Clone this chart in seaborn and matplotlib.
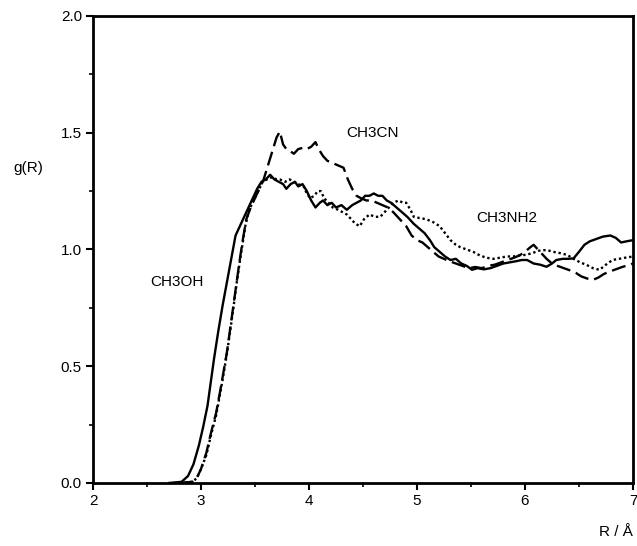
# g(R) radial distribution curves for three solutes

import pandas as pd
import matplotlib
matplotlib.use("Agg")
import matplotlib.pyplot as plt
from matplotlib.ticker import MultipleLocator
import seaborn as sns

# --- data ---
r_ch3oh = [2.70, 2.82, 2.88, 2.93, 2.98, 3.02, 3.06, 3.09, 3.12, 3.16, 3.20, 3.24, 3.28, 3.32,
           3.36, 3.40, 3.44, 3.48, 3.52, 3.56, 3.60, 3.64, 3.68, 3.72, 3.76, 3.79, 3.83, 3.87,
           3.90, 3.94, 3.98, 4.02, 4.06, 4.10, 4.13, 4.17, 4.21, 4.25, 4.30, 4.35, 4.40, 4.44,
           4.48, 4.52, 4.56, 4.60, 4.64, 4.68, 4.72, 4.76, 4.81, 4.86, 4.91, 4.97, 5.02, 5.07,
           5.12, 5.16, 5.21, 5.26, 5.31, 5.36, 5.41, 5.46, 5.51, 5.56, 5.62, 5.68, 5.74, 5.80,
           5.86, 5.92, 5.97, 6.02, 6.08, 6.14, 6.20, 6.25, 6.29, 6.35, 6.40, 6.45, 6.50, 6.55,
           6.60, 6.66, 6.72, 6.79, 6.84, 6.89, 6.94, 7.00]
g_ch3oh = [0.0, 0.005, 0.03, 0.08, 0.16, 0.24, 0.33, 0.43, 0.53, 0.65, 0.76, 0.86, 0.96, 1.06,
           1.10, 1.14, 1.18, 1.22, 1.26, 1.29, 1.30, 1.32, 1.30, 1.29, 1.28, 1.26, 1.28, 1.29,
           1.27, 1.28, 1.25, 1.21, 1.18, 1.20, 1.21, 1.19, 1.20, 1.18, 1.19, 1.17, 1.19, 1.20,
           1.21, 1.23, 1.23, 1.24, 1.23, 1.23, 1.21, 1.20, 1.18, 1.16, 1.14, 1.11, 1.09, 1.07,
           1.04, 1.01, 0.99, 0.97, 0.955, 0.96, 0.94, 0.93, 0.913, 0.92, 0.915, 0.92, 0.93, 0.94,
           0.945, 0.95, 0.955, 0.955, 0.94, 0.935, 0.926, 0.94, 0.955, 0.96, 0.96, 0.962, 0.99, 1.02,
           1.035, 1.045, 1.055, 1.06, 1.05, 1.03, 1.035, 1.04]

r_ch3cn = [2.80, 2.92, 2.96, 3.00, 3.05, 3.09, 3.14, 3.18, 3.21, 3.24, 3.27, 3.30, 3.33, 3.36,
           3.39, 3.42, 3.46, 3.50, 3.54, 3.58, 3.62, 3.66, 3.70, 3.73, 3.76, 3.79, 3.83, 3.86,
           3.90, 3.94, 3.98, 4.02, 4.06, 4.09, 4.13, 4.17, 4.22, 4.27, 4.32, 4.36, 4.40, 4.44,
           4.48, 4.53, 4.58, 4.63, 4.68, 4.73, 4.78, 4.84, 4.90, 4.95, 5.00, 5.05, 5.10, 5.15,
           5.20, 5.25, 5.30, 5.36, 5.42, 5.48, 5.54, 5.60, 5.66, 5.72, 5.78, 5.84, 5.90, 5.95,
           6.00, 6.05, 6.08, 6.12, 6.16, 6.20, 6.25, 6.30, 6.36, 6.42, 6.47, 6.52, 6.58, 6.63,
           6.68, 6.73, 6.78, 6.84, 6.90, 6.97, 7.00]
g_ch3cn = [0.0, 0.005, 0.02, 0.06, 0.13, 0.21, 0.30, 0.40, 0.48, 0.56, 0.66, 0.76, 0.86, 0.96,
           1.05, 1.13, 1.18, 1.22, 1.26, 1.30, 1.36, 1.42, 1.48, 1.505, 1.45, 1.43, 1.42, 1.41,
           1.43, 1.435, 1.43, 1.44, 1.46, 1.43, 1.40, 1.38, 1.37, 1.36, 1.35, 1.30, 1.26, 1.23,
           1.22, 1.21, 1.21, 1.20, 1.19, 1.18, 1.16, 1.13, 1.10, 1.06, 1.04, 1.03, 1.01, 0.99,
           0.97, 0.96, 0.95, 0.94, 0.93, 0.92, 0.925, 0.92, 0.93, 0.935, 0.945, 0.955, 0.965, 0.975,
           0.99, 1.01, 1.02, 1.00, 0.98, 0.96, 0.94, 0.93, 0.92, 0.91, 0.90, 0.885, 0.875, 0.87,
           0.88, 0.895, 0.905, 0.915, 0.925, 0.935, 0.94]

r_ch3nh2 = [2.80, 2.92, 2.96, 3.00, 3.05, 3.09, 3.14, 3.18, 3.21, 3.24, 3.27, 3.30, 3.33, 3.36,
            3.39, 3.41, 3.44, 3.48, 3.52, 3.57, 3.61, 3.66, 3.70, 3.73, 3.78, 3.82, 3.86, 3.90,
            3.95, 3.98, 4.01, 4.05, 4.08, 4.11, 4.14, 4.18, 4.22, 4.27, 4.31, 4.35, 4.39, 4.43,
            4.47, 4.51, 4.56, 4.61, 4.66, 4.70, 4.74, 4.78, 4.83, 4.87, 4.90, 4.94, 4.97, 5.02,
            5.08, 5.14, 5.21, 5.26, 5.31, 5.36, 5.40, 5.46, 5.52, 5.58, 5.64, 5.71, 5.77, 5.83,
            5.89, 5.95, 6.01, 6.07, 6.13, 6.20, 6.26, 6.32, 6.39, 6.45, 6.51, 6.57, 6.63, 6.69,
            6.75, 6.81, 6.87, 6.93, 7.00]
g_ch3nh2 = [0.0, 0.005, 0.02, 0.06, 0.12, 0.20, 0.29, 0.39, 0.47, 0.555, 0.65, 0.75, 0.855, 0.95,
            1.04, 1.10, 1.16, 1.205, 1.24, 1.29, 1.30, 1.31, 1.30, 1.30, 1.29, 1.30, 1.29, 1.28,
            1.27, 1.24, 1.22, 1.23, 1.25, 1.25, 1.22, 1.20, 1.18, 1.17, 1.16, 1.15, 1.13, 1.11,
            1.10, 1.13, 1.15, 1.14, 1.14, 1.16, 1.18, 1.20, 1.21, 1.20, 1.20, 1.17, 1.14, 1.135,
            1.13, 1.12, 1.10, 1.07, 1.04, 1.02, 1.01, 1.00, 0.99, 0.975, 0.965, 0.96, 0.965, 0.97,
            0.97, 0.975, 0.977, 0.985, 0.995, 0.998, 0.99, 0.985, 0.977, 0.96, 0.945, 0.934, 0.92, 0.913,
            0.935, 0.955, 0.96, 0.965, 0.97]

labels = ["CH3OH", "CH3CN", "CH3NH2"]

df = pd.concat([
    pd.DataFrame({"R": r_ch3oh, "g": g_ch3oh, "solute": labels[0]}),
    pd.DataFrame({"R": r_ch3cn, "g": g_ch3cn, "solute": labels[1]}),
    pd.DataFrame({"R": r_ch3nh2, "g": g_ch3nh2, "solute": labels[2]}),
], ignore_index=True)

# --- style ---
sns.set_style("ticks")
plt.rcParams["font.family"] = ["Liberation Sans", "DejaVu Sans"]
plt.rcParams["text.color"] = "black"
plt.rcParams["axes.labelcolor"] = "black"

fig = plt.figure(figsize=(6.37, 5.46), dpi=100)
ax = fig.add_axes([0.146, 0.1154, 0.8477, 0.8553])

sns.lineplot(data=df, x="R", y="g", hue="solute", style="solute",
             palette={l: "black" for l in labels},
             dashes={"CH3OH": "", "CH3CN": (6, 2.5), "CH3NH2": (1, 1.2)},
             estimator=None, sort=False, legend=False, linewidth=1.7, ax=ax)

ax.set_xlim(2, 7)
ax.set_ylim(0, 2.0)
ax.xaxis.set_major_locator(MultipleLocator(1))
ax.xaxis.set_minor_locator(MultipleLocator(0.5))
ax.yaxis.set_major_locator(MultipleLocator(0.5))
ax.yaxis.set_minor_locator(MultipleLocator(0.25))
ax.set_yticks([0, 0.5, 1.0, 1.5, 2.0], ["0.0", "0.5", "1.0", "1.5", "2.0"])

for s in ax.spines.values():
    s.set_visible(True)
    s.set_linewidth(2)
    s.set_color("black")
ax.tick_params(which="major", direction="out", length=5, width=1.5, labelsize=11, pad=3,
               color="black", labelcolor="black")
ax.tick_params(which="minor", direction="out", length=3, width=1.2, color="black")

ax.set_xlabel("R / Å", fontsize=11, loc="right", labelpad=12)
ax.set_ylabel("g(R)", fontsize=11, rotation=0)
ax.yaxis.set_label_coords(-0.12, 0.66)

# curve labels
ax.text(2.78, 0.86, "CH3OH", fontsize=11, ha="center", va="center")
ax.text(4.59, 1.50, "CH3CN", fontsize=11, ha="center", va="center")
ax.text(5.83, 1.135, "CH3NH2", fontsize=11, ha="center", va="center")

plt.savefig("out.png", dpi=100)
